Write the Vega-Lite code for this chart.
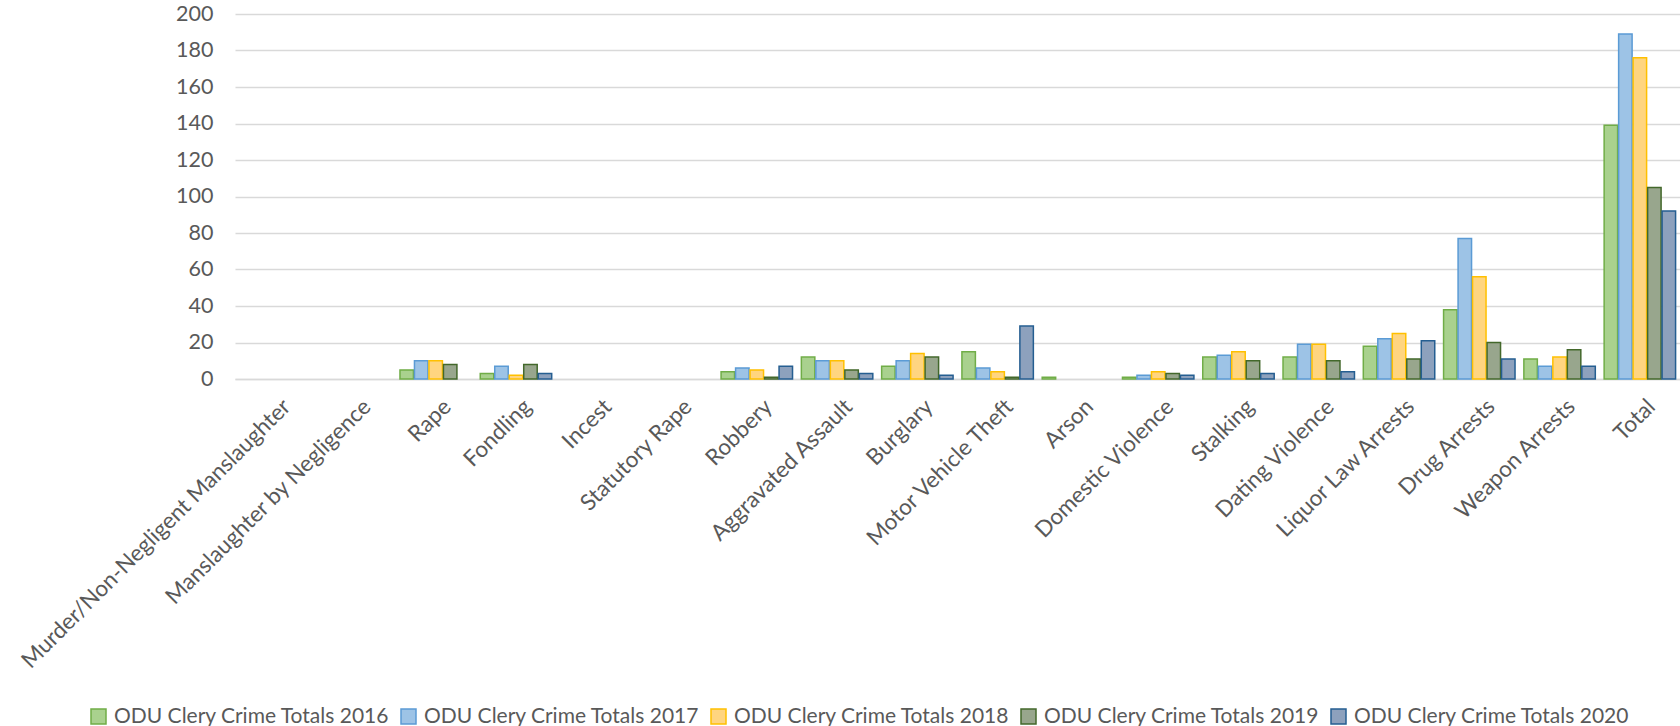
{
  "$schema": "https://vega.github.io/schema/vega-lite/v6.json",
  "width": 1445,
  "height": 365,
  "autosize": {"type": "none"},
  "padding": {"left": 235, "top": 14, "right": 0, "bottom": 347},
  "background": "white",
  "config": {"font": "Lato", "view": {"stroke": null}},
  "data": {
    "values": [
      {"category": "Murder/Non-Negligent Manslaughter", "series": "ODU Clery Crime Totals 2016", "value": 0},
      {"category": "Murder/Non-Negligent Manslaughter", "series": "ODU Clery Crime Totals 2017", "value": 0},
      {"category": "Murder/Non-Negligent Manslaughter", "series": "ODU Clery Crime Totals 2018", "value": 0},
      {"category": "Murder/Non-Negligent Manslaughter", "series": "ODU Clery Crime Totals 2019", "value": 0},
      {"category": "Murder/Non-Negligent Manslaughter", "series": "ODU Clery Crime Totals 2020", "value": 0},
      {"category": "Manslaughter by Negligence", "series": "ODU Clery Crime Totals 2016", "value": 0},
      {"category": "Manslaughter by Negligence", "series": "ODU Clery Crime Totals 2017", "value": 0},
      {"category": "Manslaughter by Negligence", "series": "ODU Clery Crime Totals 2018", "value": 0},
      {"category": "Manslaughter by Negligence", "series": "ODU Clery Crime Totals 2019", "value": 0},
      {"category": "Manslaughter by Negligence", "series": "ODU Clery Crime Totals 2020", "value": 0},
      {"category": "Rape", "series": "ODU Clery Crime Totals 2016", "value": 5},
      {"category": "Rape", "series": "ODU Clery Crime Totals 2017", "value": 10},
      {"category": "Rape", "series": "ODU Clery Crime Totals 2018", "value": 10},
      {"category": "Rape", "series": "ODU Clery Crime Totals 2019", "value": 8},
      {"category": "Rape", "series": "ODU Clery Crime Totals 2020", "value": 0},
      {"category": "Fondling", "series": "ODU Clery Crime Totals 2016", "value": 3},
      {"category": "Fondling", "series": "ODU Clery Crime Totals 2017", "value": 7},
      {"category": "Fondling", "series": "ODU Clery Crime Totals 2018", "value": 2},
      {"category": "Fondling", "series": "ODU Clery Crime Totals 2019", "value": 8},
      {"category": "Fondling", "series": "ODU Clery Crime Totals 2020", "value": 3},
      {"category": "Incest", "series": "ODU Clery Crime Totals 2016", "value": 0},
      {"category": "Incest", "series": "ODU Clery Crime Totals 2017", "value": 0},
      {"category": "Incest", "series": "ODU Clery Crime Totals 2018", "value": 0},
      {"category": "Incest", "series": "ODU Clery Crime Totals 2019", "value": 0},
      {"category": "Incest", "series": "ODU Clery Crime Totals 2020", "value": 0},
      {"category": "Statutory Rape", "series": "ODU Clery Crime Totals 2016", "value": 0},
      {"category": "Statutory Rape", "series": "ODU Clery Crime Totals 2017", "value": 0},
      {"category": "Statutory Rape", "series": "ODU Clery Crime Totals 2018", "value": 0},
      {"category": "Statutory Rape", "series": "ODU Clery Crime Totals 2019", "value": 0},
      {"category": "Statutory Rape", "series": "ODU Clery Crime Totals 2020", "value": 0},
      {"category": "Robbery", "series": "ODU Clery Crime Totals 2016", "value": 4},
      {"category": "Robbery", "series": "ODU Clery Crime Totals 2017", "value": 6},
      {"category": "Robbery", "series": "ODU Clery Crime Totals 2018", "value": 5},
      {"category": "Robbery", "series": "ODU Clery Crime Totals 2019", "value": 1},
      {"category": "Robbery", "series": "ODU Clery Crime Totals 2020", "value": 7},
      {"category": "Aggravated Assault", "series": "ODU Clery Crime Totals 2016", "value": 12},
      {"category": "Aggravated Assault", "series": "ODU Clery Crime Totals 2017", "value": 10},
      {"category": "Aggravated Assault", "series": "ODU Clery Crime Totals 2018", "value": 10},
      {"category": "Aggravated Assault", "series": "ODU Clery Crime Totals 2019", "value": 5},
      {"category": "Aggravated Assault", "series": "ODU Clery Crime Totals 2020", "value": 3},
      {"category": "Burglary", "series": "ODU Clery Crime Totals 2016", "value": 7},
      {"category": "Burglary", "series": "ODU Clery Crime Totals 2017", "value": 10},
      {"category": "Burglary", "series": "ODU Clery Crime Totals 2018", "value": 14},
      {"category": "Burglary", "series": "ODU Clery Crime Totals 2019", "value": 12},
      {"category": "Burglary", "series": "ODU Clery Crime Totals 2020", "value": 2},
      {"category": "Motor Vehicle Theft", "series": "ODU Clery Crime Totals 2016", "value": 15},
      {"category": "Motor Vehicle Theft", "series": "ODU Clery Crime Totals 2017", "value": 6},
      {"category": "Motor Vehicle Theft", "series": "ODU Clery Crime Totals 2018", "value": 4},
      {"category": "Motor Vehicle Theft", "series": "ODU Clery Crime Totals 2019", "value": 1},
      {"category": "Motor Vehicle Theft", "series": "ODU Clery Crime Totals 2020", "value": 29},
      {"category": "Arson", "series": "ODU Clery Crime Totals 2016", "value": 1},
      {"category": "Arson", "series": "ODU Clery Crime Totals 2017", "value": 0},
      {"category": "Arson", "series": "ODU Clery Crime Totals 2018", "value": 0},
      {"category": "Arson", "series": "ODU Clery Crime Totals 2019", "value": 0},
      {"category": "Arson", "series": "ODU Clery Crime Totals 2020", "value": 0},
      {"category": "Domestic Violence", "series": "ODU Clery Crime Totals 2016", "value": 1},
      {"category": "Domestic Violence", "series": "ODU Clery Crime Totals 2017", "value": 2},
      {"category": "Domestic Violence", "series": "ODU Clery Crime Totals 2018", "value": 4},
      {"category": "Domestic Violence", "series": "ODU Clery Crime Totals 2019", "value": 3},
      {"category": "Domestic Violence", "series": "ODU Clery Crime Totals 2020", "value": 2},
      {"category": "Stalking", "series": "ODU Clery Crime Totals 2016", "value": 12},
      {"category": "Stalking", "series": "ODU Clery Crime Totals 2017", "value": 13},
      {"category": "Stalking", "series": "ODU Clery Crime Totals 2018", "value": 15},
      {"category": "Stalking", "series": "ODU Clery Crime Totals 2019", "value": 10},
      {"category": "Stalking", "series": "ODU Clery Crime Totals 2020", "value": 3},
      {"category": "Dating Violence", "series": "ODU Clery Crime Totals 2016", "value": 12},
      {"category": "Dating Violence", "series": "ODU Clery Crime Totals 2017", "value": 19},
      {"category": "Dating Violence", "series": "ODU Clery Crime Totals 2018", "value": 19},
      {"category": "Dating Violence", "series": "ODU Clery Crime Totals 2019", "value": 10},
      {"category": "Dating Violence", "series": "ODU Clery Crime Totals 2020", "value": 4},
      {"category": "Liquor Law Arrests", "series": "ODU Clery Crime Totals 2016", "value": 18},
      {"category": "Liquor Law Arrests", "series": "ODU Clery Crime Totals 2017", "value": 22},
      {"category": "Liquor Law Arrests", "series": "ODU Clery Crime Totals 2018", "value": 25},
      {"category": "Liquor Law Arrests", "series": "ODU Clery Crime Totals 2019", "value": 11},
      {"category": "Liquor Law Arrests", "series": "ODU Clery Crime Totals 2020", "value": 21},
      {"category": "Drug Arrests", "series": "ODU Clery Crime Totals 2016", "value": 38},
      {"category": "Drug Arrests", "series": "ODU Clery Crime Totals 2017", "value": 77},
      {"category": "Drug Arrests", "series": "ODU Clery Crime Totals 2018", "value": 56},
      {"category": "Drug Arrests", "series": "ODU Clery Crime Totals 2019", "value": 20},
      {"category": "Drug Arrests", "series": "ODU Clery Crime Totals 2020", "value": 11},
      {"category": "Weapon Arrests", "series": "ODU Clery Crime Totals 2016", "value": 11},
      {"category": "Weapon Arrests", "series": "ODU Clery Crime Totals 2017", "value": 7},
      {"category": "Weapon Arrests", "series": "ODU Clery Crime Totals 2018", "value": 12},
      {"category": "Weapon Arrests", "series": "ODU Clery Crime Totals 2019", "value": 16},
      {"category": "Weapon Arrests", "series": "ODU Clery Crime Totals 2020", "value": 7},
      {"category": "Total", "series": "ODU Clery Crime Totals 2016", "value": 139},
      {"category": "Total", "series": "ODU Clery Crime Totals 2017", "value": 189},
      {"category": "Total", "series": "ODU Clery Crime Totals 2018", "value": 176},
      {"category": "Total", "series": "ODU Clery Crime Totals 2019", "value": 105},
      {"category": "Total", "series": "ODU Clery Crime Totals 2020", "value": 92}
    ]
  },
  "transform": [{"filter": "datum.value > 0"}],
  "mark": {"type": "bar", "strokeWidth": 1.5},
  "encoding": {
    "x": {
      "field": "category",
      "type": "nominal",
      "scale": {
        "domain": ["Murder/Non-Negligent Manslaughter", "Manslaughter by Negligence", "Rape", "Fondling", "Incest", "Statutory Rape", "Robbery", "Aggravated Assault", "Burglary", "Motor Vehicle Theft", "Arson", "Domestic Violence", "Stalking", "Dating Violence", "Liquor Law Arrests", "Drug Arrests", "Weapon Arrests", "Total"],
        "paddingInner": 0.11,
        "paddingOuter": 0.055
      },
      "axis": {
        "title": null,
        "labelAngle": -45,
        "labelFontSize": 22.5,
        "labelColor": "#595959",
        "ticks": false,
        "domain": true,
        "domainColor": "#d9d9d9",
        "domainWidth": 1.5,
        "labelPadding": 16,
        "labelOffset": 4,
        "labelLimit": 0
      }
    },
    "xOffset": {"field": "series", "type": "nominal", "scale": {"paddingInner": 0.07}},
    "y": {
      "field": "value",
      "type": "quantitative",
      "scale": {"domain": [0, 200]},
      "axis": {
        "title": null,
        "values": [0, 20, 40, 60, 80, 100, 120, 140, 160, 180, 200],
        "grid": true,
        "gridColor": "#d9d9d9",
        "gridWidth": 1.5,
        "domain": false,
        "ticks": false,
        "labelFontSize": 21.5,
        "labelColor": "#595959",
        "labelPadding": 22
      }
    },
    "fill": {
      "field": "series",
      "type": "nominal",
      "scale": {"range": ["#a9d18e", "#9dc3e6", "#ffd580", "#98a68d", "#8da1bd"]},
      "legend": {
        "orient": "none",
        "legendX": -147,
        "legendY": 692,
        "direction": "horizontal",
        "title": null,
        "symbolType": "square",
        "symbolSize": 225,
        "symbolStrokeWidth": 1.5,
        "symbolOpacity": 1,
        "labelFontSize": 21,
        "labelColor": "#595959",
        "labelOffset": 5,
        "labelLimit": 0,
        "columnPadding": 8
      }
    },
    "stroke": {
      "field": "series",
      "type": "nominal",
      "scale": {"range": ["#70ad47", "#5b9bd5", "#ffc000", "#43682b", "#255e91"]},
      "legend": {
        "orient": "none",
        "legendX": -147,
        "legendY": 692,
        "direction": "horizontal",
        "title": null,
        "symbolType": "square",
        "symbolSize": 225,
        "symbolStrokeWidth": 1.5,
        "symbolOpacity": 1,
        "labelFontSize": 21,
        "labelColor": "#595959",
        "labelOffset": 5,
        "labelLimit": 0,
        "columnPadding": 8
      }
    }
  }
}
